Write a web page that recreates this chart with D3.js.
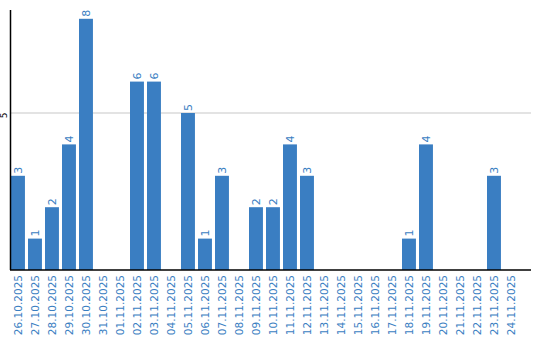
<!DOCTYPE html>
<html>
<head>
<meta charset="utf-8">
<script src="https://cdn.jsdelivr.net/npm/d3@7"></script>
<style>
  body { margin: 0; background: #fff; }
  svg { display: block; font-family: "DejaVu Sans", Verdana, sans-serif; }
</style>
</head>
<body>
<svg width="540" height="340"></svg>
<script>
// Dates and daily counts
var dates = ["26.10.2025", "27.10.2025", "28.10.2025", "29.10.2025", "30.10.2025", "31.10.2025",
  "01.11.2025", "02.11.2025", "03.11.2025", "04.11.2025", "05.11.2025", "06.11.2025",
  "07.11.2025", "08.11.2025", "09.11.2025", "10.11.2025", "11.11.2025", "12.11.2025",
  "13.11.2025", "14.11.2025", "15.11.2025", "16.11.2025", "17.11.2025", "18.11.2025",
  "19.11.2025", "20.11.2025", "21.11.2025", "22.11.2025", "23.11.2025", "24.11.2025"];
var counts = [3, 1, 2, 4, 8, 0, 0, 6, 6, 0, 5, 1, 3, 0, 2, 2, 4, 3, 0, 0, 0, 0, 0, 1, 4, 0, 0, 0, 3, 0];
var yTicks = [5];

var blue = "#3a7ec2";
var plotLeft = 11, plotRight = 531, plotTop = 10, plotBottom = 270;

var svg = d3.select("svg");

var data = dates.map(function(d, i) { return { date: d, value: counts[i] }; });
var nonZero = data.filter(function(d) { return d.value > 0; });

var xScale = d3.scaleBand()
  .domain(dates)
  .range([plotLeft, plotRight])
  .paddingInner(0.18)
  .paddingOuter(0.384)
  .align(0);

var yScale = d3.scaleLinear()
  .domain([0, 8.28])
  .range([plotBottom, plotTop]);

// gridlines
svg.append("g")
  .selectAll("line")
  .data(yTicks)
  .enter()
  .append("line")
  .attr("x1", plotLeft)
  .attr("x2", plotRight)
  .attr("y1", function(d) { return yScale(d); })
  .attr("y2", function(d) { return yScale(d); })
  .attr("stroke", "#c8c8c8")
  .attr("stroke-width", 1.2);

// bars
svg.append("g")
  .selectAll("rect")
  .data(nonZero)
  .enter()
  .append("rect")
  .attr("x", function(d) { return xScale(d.date); })
  .attr("y", function(d) { return yScale(d.value); })
  .attr("width", xScale.bandwidth())
  .attr("height", function(d) { return plotBottom - yScale(d.value); })
  .attr("fill", blue);

// value labels (rotated)
svg.append("g")
  .selectAll("text")
  .data(nonZero)
  .enter()
  .append("text")
  .attr("transform", function(d) {
    return "translate(" + (xScale(d.date) + xScale.bandwidth() / 2) + "," + (yScale(d.value) - 2) + ") rotate(-90)";
  })
  .attr("dy", "0.35em")
  .attr("text-anchor", "start")
  .attr("fill", blue)
  .style("font-size", "11px")
  .text(function(d) { return d.value; });

// x axis
var xAxis = svg.append("g")
  .attr("transform", "translate(0," + plotBottom + ")")
  .call(d3.axisBottom(xScale).tickSize(0).tickSizeOuter(0));
xAxis.select(".domain").remove();
xAxis.append("line")
  .attr("x1", plotLeft - 1).attr("x2", plotRight)
  .attr("stroke", "#000").attr("stroke-width", 1.5);
xAxis.selectAll(".tick text")
  .attr("y", 0)
  .attr("dy", "0.35em")
  .attr("transform", "translate(0,5) rotate(-90)")
  .attr("text-anchor", "end")
  .attr("fill", blue)
  .style("font-size", "10.5px")
  .style("font-family", "DejaVu Sans, Verdana, sans-serif");

// y axis
var yAxis = svg.append("g")
  .attr("transform", "translate(" + plotLeft + ",0)")
  .call(d3.axisLeft(yScale).tickValues(yTicks).tickSize(0).tickSizeOuter(0));
yAxis.select(".domain").remove();
yAxis.append("line")
  .attr("x1", -0.5).attr("x2", -0.5)
  .attr("y1", plotTop).attr("y2", plotBottom)
  .attr("stroke", "#000").attr("stroke-width", 1.5);
yAxis.selectAll(".tick text")
  .attr("x", 0)
  .attr("dy", "0")
  .attr("transform", "translate(-4,2) rotate(-90)")
  .attr("text-anchor", "middle")
  .attr("fill", "#000")
  .style("font-size", "9px")
  .style("font-family", "DejaVu Sans, Verdana, sans-serif");
</script>
</body>
</html>
